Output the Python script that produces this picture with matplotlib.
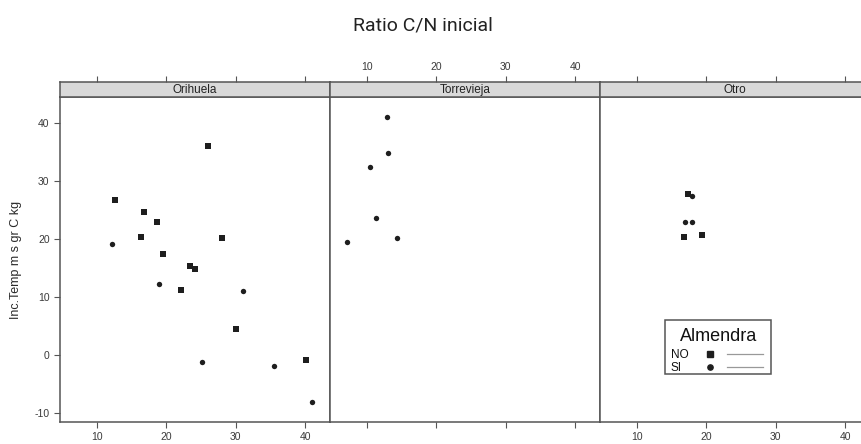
import matplotlib.pyplot as plt
from matplotlib.lines import Line2D
from matplotlib.patches import Rectangle

# Ratio C/N inicial vs Inc.Temp, by site and Almendra (NO = square, SI = circle)
sites = ['Orihuela', 'Torrevieja', 'Otro']

ori_no_x = [12.6, 16.8, 18.7, 16.4, 19.5, 26.0, 28.0, 23.5, 24.2, 22.1, 30.1, 40.2]
ori_no_y = [26.7, 24.6, 22.9, 20.2, 17.4, 36.0, 20.1, 15.3, 14.8, 11.1, 4.5, -0.9]
ori_si_x = [12.2, 18.9, 31.0, 25.1, 35.5, 41.0]
ori_si_y = [19.1, 12.2, 10.9, -1.3, -2.0, -8.2]

tor_no_x = []
tor_no_y = []
tor_si_x = [12.9, 13.1, 10.5, 11.3, 14.3, 7.1]
tor_si_y = [40.9, 34.7, 32.4, 23.5, 20.1, 19.4]

otr_no_x = [17.4, 16.8, 19.4]
otr_no_y = [27.6, 20.3, 20.6]
otr_si_x = [18.0, 17.0, 18.0]
otr_si_y = [27.4, 22.8, 22.8]

data = {
    'Orihuela': (ori_no_x, ori_no_y, ori_si_x, ori_si_y),
    'Torrevieja': (tor_no_x, tor_no_y, tor_si_x, tor_si_y),
    'Otro': (otr_no_x, otr_no_y, otr_si_x, otr_si_y),
}

xticks = [10, 20, 30, 40]
yticks = [-10, 0, 10, 20, 30, 40]
xlim = (4.7, 43.6)
ylim = (-11.6, 44.4)

plt.rcParams['font.family'] = ['Liberation Sans', 'DejaVu Sans']
plt.rcParams['axes.unicode_minus'] = False

W, H = 861, 444
fig = plt.figure(figsize=(W / 100, H / 100), dpi=100)

edge = '#555555'
ink = '#1e1e1e'
lab = '#3a3a3a'
left0, pw, top_px, bot_px, strip_h = 60, 270, 97, 422, 15

for i, site in enumerate(sites):
    l = (left0 + i * pw) / W
    ax = fig.add_axes([l, 1 - bot_px / H, pw / W, (bot_px - top_px) / H])
    sx = fig.add_axes([l, 1 - top_px / H, pw / W, strip_h / H], sharex=ax)

    nx, ny, cx, cy = data[site]
    ax.scatter(nx, ny, marker='s', s=18, color=ink, linewidths=0, zorder=3)
    ax.scatter(cx, cy, marker='o', s=15, color=ink, linewidths=0, zorder=3)
    ax.set_xlim(*xlim)
    ax.set_ylim(*ylim)
    ax.set_xticks(xticks)
    ax.tick_params(axis='x', direction='out', length=4, width=0.8, color=edge,
                   labelsize=7.5, labelcolor=lab, labelbottom=(i != 1))
    if i == 0:
        ax.set_yticks(yticks)
        ax.tick_params(axis='y', direction='out', length=4, width=0.8, color=edge,
                       labelsize=7.5, labelcolor=lab)
        ax.set_ylabel('Inc.Temp m s gr C kg', fontsize=9, color='#2a2a2a', labelpad=9)
    else:
        ax.set_yticks([])
    for s in ax.spines.values():
        s.set_color(edge)
        s.set_linewidth(1.1)

    # strip with panel name
    sx.set_facecolor('#d9d9d9')
    sx.set_yticks([])
    sx.xaxis.set_ticks_position('top')
    sx.tick_params(axis='x', direction='out', length=4, width=0.8, color=edge,
                   labelsize=7.5, labelcolor=lab, labeltop=(i == 1), labelbottom=False)
    for s in sx.spines.values():
        s.set_color(edge)
        s.set_linewidth(1.1)
    sx.text(0.5, 0.45, site, transform=sx.transAxes, ha='center', va='center',
            fontsize=8.5, color='#222222')

    if site == 'Otro':
        ax.spines['right'].set_visible(False)
        sx.spines['right'].set_visible(False)
        ax.add_patch(Rectangle((0.241, 0.148), 0.392, 0.166, transform=ax.transAxes,
                               fill=False, edgecolor='#555555', linewidth=1.1, zorder=4))
        ax.text(0.438, 0.262, 'Almendra', transform=ax.transAxes, ha='center',
                va='center', fontsize=13, color='#111111')
        ax.text(0.262, 0.206, 'NO', transform=ax.transAxes, ha='left', va='center',
                fontsize=8.5, color='#111111')
        ax.text(0.262, 0.165, 'SI', transform=ax.transAxes, ha='left', va='center',
                fontsize=8.5, color='#111111')
        ax.add_line(Line2D([0.407], [0.208], transform=ax.transAxes, marker='s',
                           markersize=4, color=ink, linestyle='none'))
        ax.add_line(Line2D([0.407], [0.169], transform=ax.transAxes, marker='o',
                           markersize=3.8, color=ink, linestyle='none'))
        ax.add_line(Line2D([0.471, 0.605], [0.208, 0.208], transform=ax.transAxes,
                           color='#999999', linewidth=0.9))
        ax.add_line(Line2D([0.471, 0.605], [0.169, 0.169], transform=ax.transAxes,
                           color='#999999', linewidth=0.9))

fig.text(423 / W, 1 - 25 / H, 'Ratio C/N inicial', ha='center', va='center',
         fontsize=14, color='#222222', family=['Roboto', 'Liberation Sans'])

fig.savefig('out.png', dpi=100)
